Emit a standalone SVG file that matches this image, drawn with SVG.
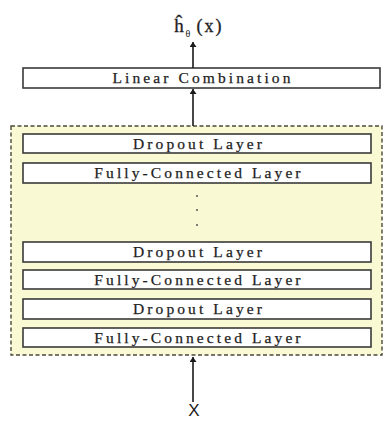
<svg xmlns="http://www.w3.org/2000/svg" width="390" height="421" viewBox="0 0 390 421">
<style>
.box{fill:#ffffff;stroke:#3a3a3a;stroke-width:1.6}
.lbl{font-family:"Liberation Serif","Times New Roman",serif;font-size:15.5px;letter-spacing:3.1px;fill:#222222;stroke:#222222;stroke-width:0.25;text-anchor:middle}
.conn{stroke:#1a1a1a;stroke-width:1.6;fill:none}
</style>
<defs>
<marker id="ah" viewBox="0 0 10 14" refX="10" refY="7" markerWidth="5" markerHeight="7" orient="auto" markerUnits="userSpaceOnUse">
<path d="M0,0 L10,7 L0,14 Z" fill="#1a1a1a"/>
</marker>
</defs>
<rect width="390" height="421" fill="#ffffff"/>
<g id="container">
<rect x="11" y="126" width="371" height="229" fill="#f9f9d3" stroke="#4a4a3a" stroke-width="1.4" stroke-dasharray="4,2.5"/>
</g>
<g id="output">
<text x="179" y="32" font-family="Liberation Serif,serif" font-size="19" fill="#222" stroke="#222" stroke-width="0.3" text-anchor="middle">ĥ</text>
<text x="188" y="37" font-family="Liberation Serif,serif" font-size="10" fill="#222" text-anchor="middle">θ</text>
<text x="210" y="32" font-family="Liberation Serif,serif" font-size="18" letter-spacing="2" fill="#222" stroke="#222" stroke-width="0.3" text-anchor="middle">(x)</text>
</g>
<g id="linear">
<rect class="box" x="23" y="68" width="357" height="20"/>
<text class="lbl" x="203" y="83">Linear Combination</text>
</g>
<g id="dropout1">
<rect class="box" x="23" y="134" width="348" height="19"/>
<text class="lbl" x="199" y="149">Dropout Layer</text>
</g>
<g id="fc1">
<rect class="box" x="23" y="163" width="348" height="20"/>
<text class="lbl" x="199" y="178">Fully-Connected Layer</text>
</g>
<g id="dots">
<circle cx="197" cy="196" r="1" fill="#555"/>
<circle cx="197" cy="210" r="1" fill="#555"/>
<circle cx="197" cy="225" r="1" fill="#555"/>
</g>
<g id="dropout2">
<rect class="box" x="23" y="242" width="348" height="20"/>
<text class="lbl" x="199" y="257">Dropout Layer</text>
</g>
<g id="fc2">
<rect class="box" x="23" y="270" width="348" height="19"/>
<text class="lbl" x="199" y="285">Fully-Connected Layer</text>
</g>
<g id="dropout3">
<rect class="box" x="23" y="299" width="348" height="20"/>
<text class="lbl" x="199" y="314">Dropout Layer</text>
</g>
<g id="fc3">
<rect class="box" x="23" y="328" width="348" height="19"/>
<text class="lbl" x="199" y="343">Fully-Connected Layer</text>
</g>
<g id="input">
<text x="194" y="416" font-family="Liberation Sans,Arial,sans-serif" font-size="17" fill="#1a1a1a" text-anchor="middle">X</text>
</g>
<g id="connectors">
<line class="conn" x1="193" y1="402" x2="193" y2="357" marker-end="url(#ah)"/>
<line class="conn" x1="193" y1="126" x2="193" y2="89" marker-end="url(#ah)"/>
<line class="conn" x1="193" y1="68" x2="193" y2="42" marker-end="url(#ah)"/>
</g>
</svg>
